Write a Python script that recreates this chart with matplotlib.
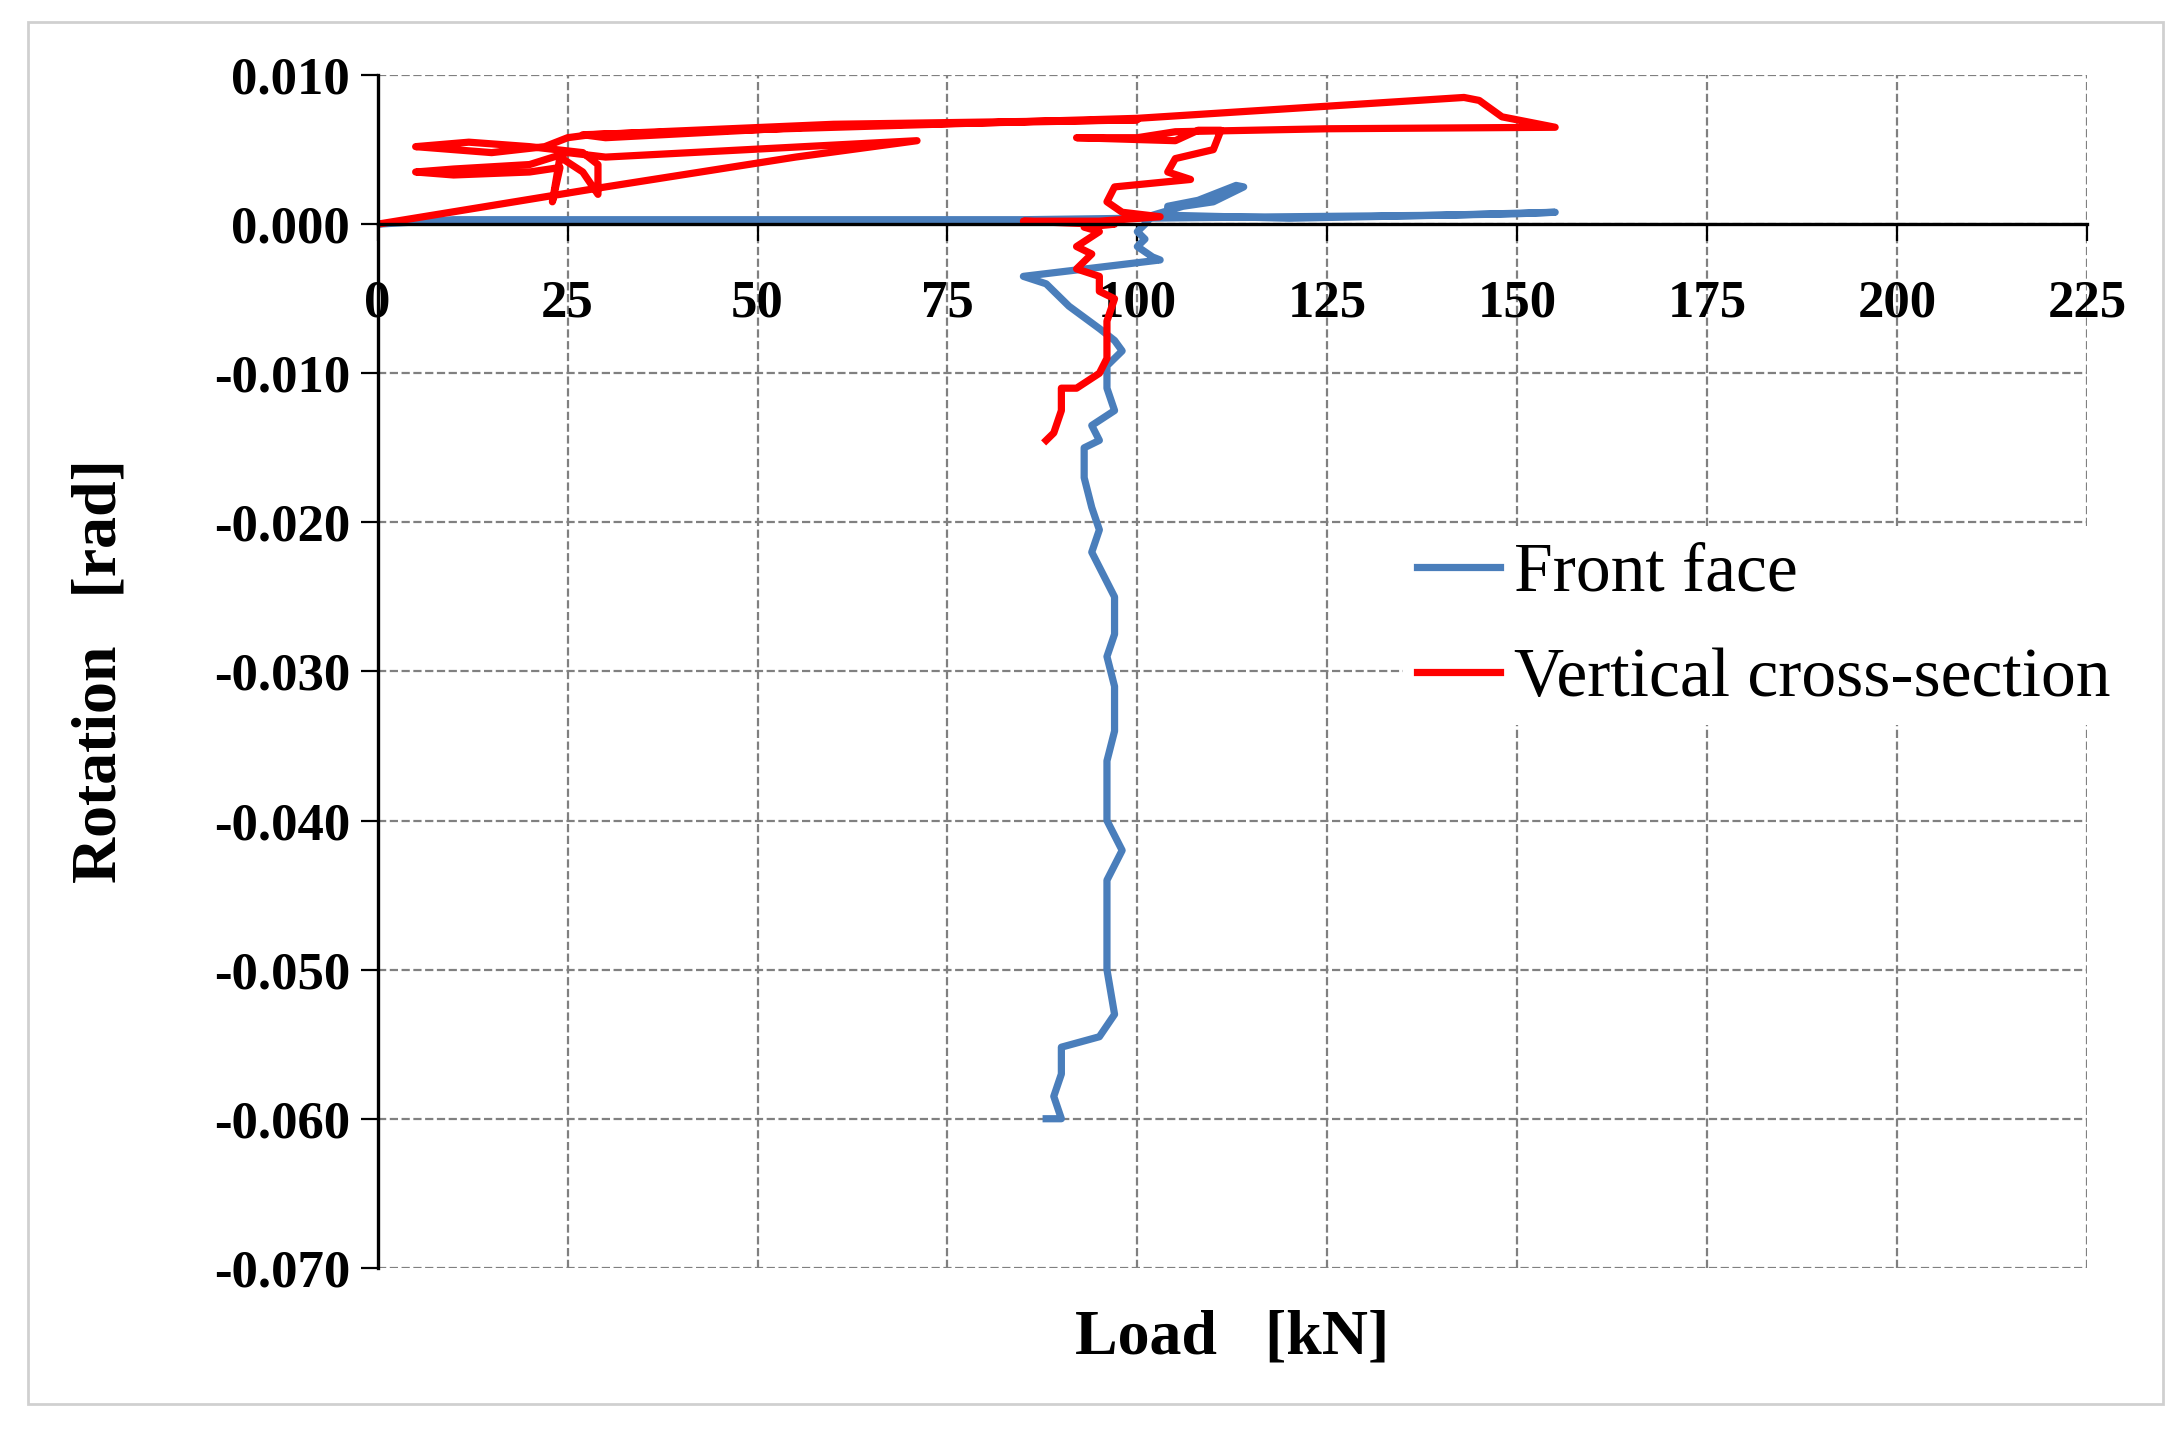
import matplotlib
matplotlib.use("Agg")
import matplotlib.pyplot as plt
from matplotlib.patches import Rectangle

front_x = [0,10,50,85,100,140,155,150,120,104,104,108,113,114,110,106,102,101,100,101,100,102,103,85,88,91,95,97,98,97,96,96,96,97,94,95,93,93,94,95,94,95,97,97,96,97,97,96,96,98,96,96,96,97,95,90,90,89,90,88]
front_y = [0,0.0003,0.0003,0.0003,0.0004,0.0006,0.0008,0.0007,0.0004,0.0006,0.0012,0.0016,0.0026,0.0025,0.0015,0.0012,0.0006,0.0,-0.0005,-0.001,-0.0015,-0.0022,-0.0024,-0.0035,-0.004,-0.0055,-0.007,-0.0078,-0.0085,-0.009,-0.0095,-0.0098,-0.011,-0.0125,-0.0135,-0.0145,-0.015,-0.017,-0.019,-0.0205,-0.022,-0.023,-0.025,-0.0275,-0.029,-0.031,-0.034,-0.036,-0.040,-0.042,-0.044,-0.047,-0.050,-0.053,-0.0545,-0.0552,-0.057,-0.0585,-0.060,-0.060]

vert_x = [0,30,55,71,30,25,20,10,5,10,20,24,23,24,27,29,29,27,20,12,5,10,15,22,25,28,60,100,60,30,27,100,143,145,148,155,125,105,100,92,105,108,111,110,105,104,107,97,96,98,103,95,85,95,97,93,95,92,94,92,95,95,97,96,96,95,92,90,90,89,88]
vert_y = [0,0.0025,0.0045,0.0056,0.0045,0.0048,0.0040,0.0037,0.0035,0.0033,0.0035,0.0038,0.0015,0.0045,0.0035,0.002,0.004,0.0048,0.0052,0.0055,0.0052,0.0050,0.0048,0.0052,0.0058,0.006,0.0067,0.0070,0.0066,0.0058,0.0060,0.0071,0.0085,0.0083,0.0072,0.0065,0.0064,0.0062,0.0058,0.0058,0.0056,0.0063,0.0063,0.0050,0.0044,0.0035,0.0030,0.0025,0.0015,0.0008,0.0005,0.0002,0.0002,0.0,0.0,-0.0002,-0.0005,-0.0015,-0.002,-0.003,-0.0035,-0.0045,-0.005,-0.0065,-0.009,-0.010,-0.011,-0.011,-0.0125,-0.014,-0.0145]

x_ticks = [0,25,50,75,100,125,150,175,200,225]
y_ticks = [0.010,0.000,-0.010,-0.020,-0.030,-0.040,-0.050,-0.060,-0.070]

plt.rcParams['font.family'] = ['Liberation Serif', 'DejaVu Serif']
fig = plt.figure(figsize=(10.915, 7.22), dpi=200)
fig.patches.append(Rectangle((0.013, 0.028), 0.978, 0.957, transform=fig.transFigure,
                             fill=False, edgecolor='#d0d0d0', lw=1))
ax = fig.add_axes([0.173, 0.122, 0.783, 0.826])
ax.plot(front_x, front_y, color='#4a7ebb', lw=2.6, label='Front face')
ax.plot(vert_x, vert_y, color='#ff0000', lw=2.6, label='Vertical cross-section')
ax.set_xlim(0, 225)
ax.set_ylim(-0.070, 0.010)
ax.spines['bottom'].set_position(('data', 0))
ax.spines['top'].set_visible(False)
ax.spines['right'].set_visible(False)
ax.spines['bottom'].set_linewidth(1.2)
ax.spines['left'].set_linewidth(1.2)
ax.set_xticks(x_ticks)
ax.set_yticks(y_ticks)
ax.set_yticklabels([f"{v:.3f}" for v in y_ticks], fontsize=19, fontweight='bold')
ax.set_xticklabels([str(v) for v in x_ticks], fontsize=19, fontweight='bold')
ax.tick_params(axis='x', direction='out', length=6, pad=14, labelsize=19)
ax.tick_params(axis='y', direction='out', length=6, pad=4, labelsize=19)
ax.grid(True, ls='--', color='#808080', lw=0.8)
ax.set_axisbelow(True)
ax.set_xlabel('Load   [kN]', fontsize=23, fontweight='bold', labelpad=0)
ax.xaxis.set_label_coords(0.5, -0.035)
ax.set_ylabel('Rotation   [rad]', fontsize=23, fontweight='bold')
ax.yaxis.set_label_coords(-0.145, 0.5)
leg = ax.legend(loc='upper left', bbox_to_anchor=(0.6, 0.62), fontsize=25, frameon=True,
                edgecolor='none', fancybox=False, handlelength=1.2, handletextpad=0.2,
                borderaxespad=0, labelspacing=0.6, borderpad=0.2)
leg.get_frame().set_alpha(1)
fig.savefig('out.png', dpi=200)
